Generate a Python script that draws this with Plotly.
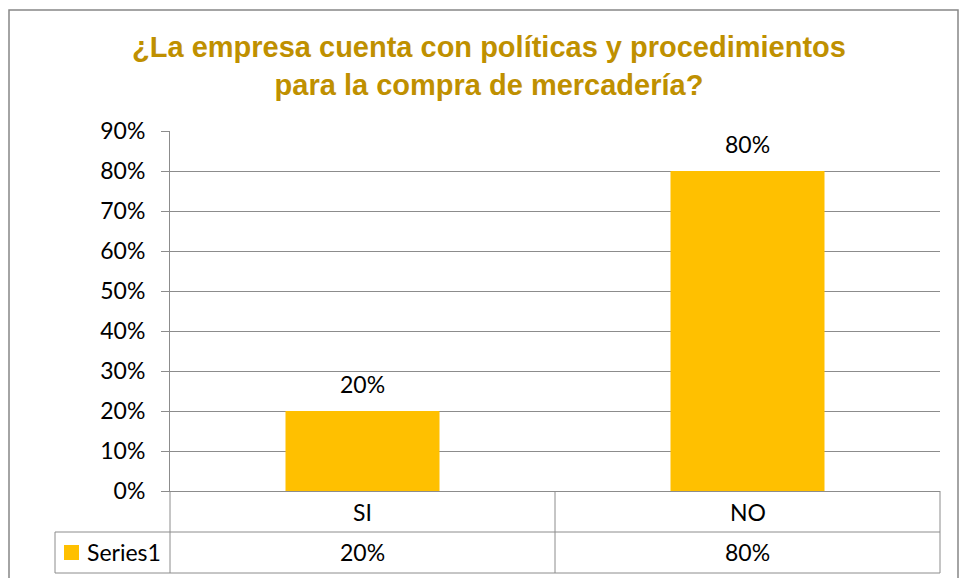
import plotly.graph_objects as go

# data
categories = ["SI", "NO"]
values = [0.20, 0.80]
series_name = "Series1"
title_text = "¿La empresa cuenta con políticas y procedimientos<br>para la compra de mercadería?"

W, H = 960, 578
L, R, T, B = 170, 940, 131, 491  # plot area in pixels

bar_color = "#FFC000"
title_color = "#BF9000"
line_color = "#8C8C8C"
text_font = "Lato, Carlito, sans-serif"
text_size = 23


def px(x):
    return (x - L) / (R - L)


def py(y):
    return (B - y) / (B - T)


fig = go.Figure(
    go.Bar(
        x=categories,
        y=values,
        name=series_name,
        marker=dict(color=bar_color, line=dict(width=0)),
        showlegend=False,
        hoverinfo="skip",
    )
)

# value labels above the bars
for c, v in zip(categories, values):
    fig.add_annotation(
        x=c, y=v, xref="x", yref="y", text=f"{v:.0%}", showarrow=False,
        yanchor="middle", yshift=27,
        font=dict(size=text_size, color="#000000", family=text_font),
    )

# data table: category row and value row
for c, v in zip(categories, values):
    fig.add_annotation(
        x=c, y=py(512), xref="x", yref="paper", text=c, showarrow=False,
        yanchor="middle", font=dict(size=text_size, color="#000000", family=text_font),
    )
    fig.add_annotation(
        x=c, y=py(552), xref="x", yref="paper", text=f"{v:.0%}", showarrow=False,
        yanchor="middle", font=dict(size=text_size, color="#000000", family=text_font),
    )

# legend key inside table
fig.add_annotation(
    x=px(85), y=py(552), xref="paper", yref="paper", text=series_name, showarrow=False,
    xanchor="left", yanchor="middle",
    font=dict(size=text_size, color="#000000", family=text_font),
)

shapes = []


def hline(y, x0, x1):
    shapes.append(dict(type="line", xref="paper", yref="paper", x0=px(x0), x1=px(x1),
                       y0=py(y), y1=py(y), line=dict(color=line_color, width=1)))


def vline(x, y0, y1):
    shapes.append(dict(type="line", xref="paper", yref="paper", x0=px(x), x1=px(x),
                       y0=py(y0), y1=py(y1), line=dict(color=line_color, width=1)))


hline(532, 55, 940)
hline(573, 55, 940)
vline(55, 532, 573)
vline(170, 491, 573)
vline(555, 491, 573)
vline(940, 491, 573)

# legend square
shapes.append(dict(type="rect", xref="paper", yref="paper", x0=px(64), x1=px(79),
                   y0=py(545), y1=py(560), fillcolor=bar_color, line=dict(width=0)))

# outer chart border
shapes.append(dict(type="rect", xref="paper", yref="paper", x0=px(9), x1=px(958),
                   y0=py(10), y1=py(600), line=dict(color="#878787", width=1.5)))

fig.update_layout(
    width=W, height=H,
    margin=dict(l=L, r=W - R, t=T, b=H - B, pad=0),
    paper_bgcolor="white", plot_bgcolor="white",
    bargap=0.6,
    shapes=shapes,
    title=dict(
        text=title_text, xref="container", yref="container",
        x=489 / W, y=1 - 57 / H, xanchor="center", yanchor="middle",
        font=dict(family="Liberation Sans, Arial, sans-serif", size=29,
                  color=title_color, weight="bold"),
    ),
    font=dict(family=text_font, size=text_size, color="#000000"),
    xaxis=dict(range=[-0.5, 1.5], showticklabels=False, showgrid=False, zeroline=False,
               showline=True, linecolor=line_color, linewidth=1, fixedrange=True),
    yaxis=dict(range=[0, 0.9], dtick=0.1, tick0=0, tickformat=".0%",
               showgrid=True, gridcolor=line_color, gridwidth=1,
               showline=True, linecolor=line_color, linewidth=1, zeroline=False,
               ticks="outside", ticklen=8, tickcolor=line_color,
               ticklabelstandoff=11, fixedrange=True,
               tickfont=dict(size=text_size, family=text_font, color="#000000")),
)

fig.write_html("out.html", config={"displayModeBar": False},
               post_script="document.body.style.margin='0px';")
